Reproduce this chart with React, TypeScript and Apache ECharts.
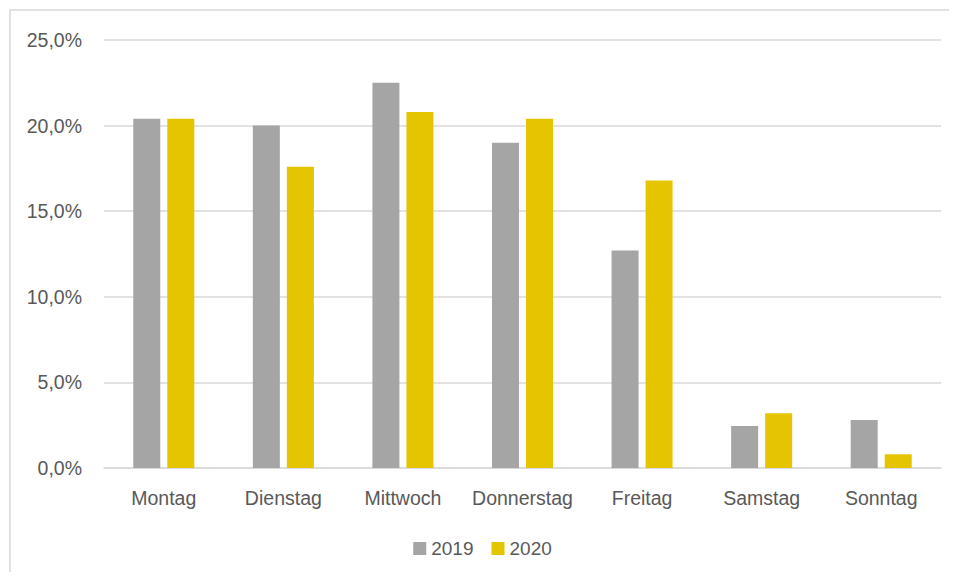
import React, { useEffect, useRef } from "react";
import * as echarts from "echarts";

const categories = ["Montag", "Dienstag", "Mittwoch", "Donnerstag", "Freitag", "Samstag", "Sonntag"];
const values2019 = [20.4, 20.0, 22.5, 19.0, 12.7, 2.45, 2.8];
const values2020 = [20.4, 17.6, 20.8, 20.4, 16.8, 3.2, 0.8];
const seriesNames = ["2019", "2020"];
const colors = ["#A5A5A5", "#E5C400"];

const FONT = "'Liberation Sans', Arial, sans-serif";
const FS = 19.5;

export default function App() {
  const ref = useRef<HTMLDivElement>(null);
  useEffect(() => {
    if (!ref.current) return;
    const chart = echarts.init(ref.current, undefined, { renderer: "svg" });
    chart.setOption({
      animation: false,
      backgroundColor: "#ffffff",
      textStyle: { fontFamily: FONT },
      graphic: [
        {
          type: "rect",
          shape: { x: 2, y: 2, width: 1200, height: 1200 },
          style: { fill: "none", stroke: "#d9d9d9", lineWidth: 1.5 },
          silent: true,
          z: -1,
        },
      ],
      grid: { left: 96, right: 16, top: 32, bottom: 104, containLabel: false },
      legend: {
        data: seriesNames,
        bottom: 9,
        left: "center",
        itemWidth: 13,
        itemHeight: 13,
        itemGap: 18,
        icon: "rect",
        textStyle: { fontFamily: FONT, fontSize: 19, color: "#595959" },
      },
      xAxis: {
        type: "category",
        data: categories,
        axisLine: { lineStyle: { color: "#d9d9d9", width: 1.5 } },
        axisTick: { show: false },
        axisLabel: { fontFamily: FONT, fontSize: FS, color: "#595959", margin: 20, interval: 0 },
      },
      yAxis: {
        type: "value",
        min: 0,
        max: 25,
        interval: 5,
        axisLine: { show: false },
        axisTick: { show: false },
        splitLine: { lineStyle: { color: "#d9d9d9", width: 1.5 } },
        axisLabel: {
          fontFamily: FONT,
          fontSize: FS,
          color: "#595959",
          margin: 22,
          formatter: (v: number) => v.toFixed(1).replace(".", ",") + "%",
        },
      },
      series: [
        {
          name: seriesNames[0],
          type: "bar",
          data: values2019,
          barWidth: 27,
          barGap: "26%",
          itemStyle: { color: colors[0] },
        },
        {
          name: seriesNames[1],
          type: "bar",
          data: values2020,
          barWidth: 27,
          barGap: "26%",
          itemStyle: { color: colors[1] },
        },
      ],
    });
    return () => chart.dispose();
  }, []);
  return <div ref={ref} style={{ width: 949, height: 564 }} />;
}
